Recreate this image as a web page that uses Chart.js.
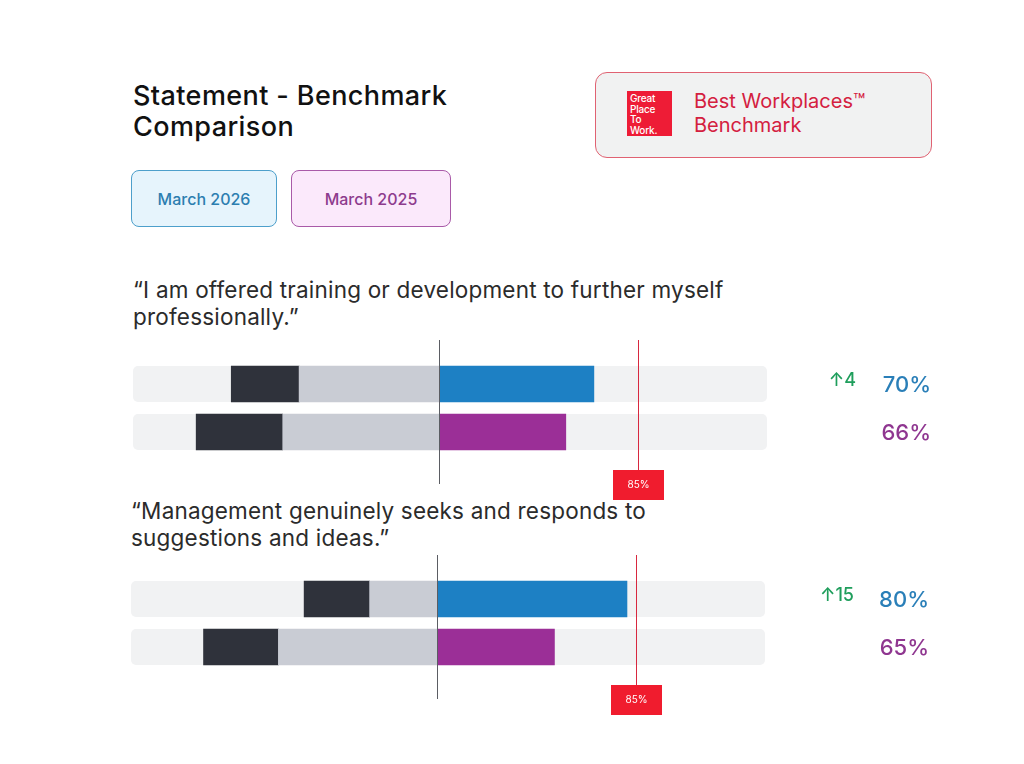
<!DOCTYPE html>
<html>
<head>
<meta charset="utf-8">
<script src="https://cdn.jsdelivr.net/npm/chart.js@4/dist/chart.umd.min.js"></script>
<style>
  html, body { margin: 0; padding: 0; background: #fff; }
  body { width: 1024px; height: 764px; position: relative; overflow: hidden; font-family: Inter, "Noto Sans", sans-serif; }
  .abs { position: absolute; }
  #title { left: 133px; top: 80px; font-size: 27px; line-height: 31px; font-weight: 500; color: #111; letter-spacing: 0.4px; white-space: nowrap; }
  .pill { top: 170px; height: 57px; border-radius: 8px; box-sizing: border-box; display: flex; align-items: center; justify-content: center; font-size: 16px; font-weight: 500; }
  #pill26 { left: 131px; width: 146px; background: #e6f4fc; border: 1px solid #4d9fcb; color: #2c7eb0; }
  #pill25 { left: 291px; width: 160px; background: #fbe9fb; border: 1px solid #a95aa8; color: #8d3b8d; }
  #badge { left: 595px; top: 72px; width: 337px; height: 86px; box-sizing: border-box; border: 1.5px solid #e06272; border-radius: 12px; background: #f1f2f2; }
  #logo { left: 627px; top: 91px; width: 45px; height: 45px; background: #ee1c36; color: #fff; font-size: 10px; line-height: 10.5px; box-sizing: border-box; padding: 2px 0 0 3px; font-weight: 500; letter-spacing: -0.2px; }
  #badgeText { left: 694px; top: 89px; font-size: 20px; line-height: 24px; color: #d4203f; white-space: nowrap; }
  .stmt { font-size: 22.5px; line-height: 27px; color: #2b2b2b; letter-spacing: 0.2px; white-space: nowrap; }
  #stmt1 { left: 133px; top: 276px; }
  #stmt2 { left: 131px; top: 497px; }
  canvas { display: block; }
  .chartBox { position: absolute; width: 830px; height: 170px; }
  #box1 { left: 120px; top: 335px; }
  #box2 { left: 118px; top: 550px; }
</style>
</head>
<body>
<div id="title" class="abs">Statement - Benchmark<br>Comparison</div>
<div id="pill26" class="abs pill">March 2026</div>
<div id="pill25" class="abs pill">March 2025</div>
<div id="badge" class="abs"></div>
<div id="logo" class="abs">Great<br>Place<br>To<br>Work.</div>
<div id="badgeText" class="abs">Best Workplaces™<br>Benchmark</div>
<div id="stmt1" class="abs stmt"></div>
<div id="stmt2" class="abs stmt"></div>
<div id="box1" class="chartBox"><canvas id="chart1"></canvas></div>
<div id="box2" class="chartBox"><canvas id="chart2"></canvas></div>
<script>
const periods = ['March 2026', 'March 2025'];
const statementLines = [
  ['“I am offered training or development to further myself', 'professionally.”'],
  ['“Management genuinely seeks and responds to', 'suggestions and ideas.”']
];

// bar lengths, in scale units (benchmark line sits at 85)
const positive1 = [66, 54];
const neutral1 = [60, 67];
const negative1 = [29, 37];
const positive2 = [81, 50];
const neutral2 = [29, 68];
const negative2 = [28, 32];

const scoreLabels1 = ['70%', '66%'];
const scoreLabels2 = ['80%', '65%'];
const changeLabels = ['↑4', '↑15'];
const benchmark = 85;
const benchmarkLabel = '85%';
const trackMin = -131;
const trackMax = 140;

const periodColors = ['#1d80c4', '#9b2f97'];
const scoreColors = ['#2a7fb8', '#8f3690'];

document.getElementById('stmt1').innerHTML = statementLines[0].join('<br>');
document.getElementById('stmt2').innerHTML = statementLines[1].join('<br>');

const overlay = {
  id: 'overlay',
  beforeDatasetsDraw(chart) {
    const ctx = chart.ctx;
    const x = chart.scales.x;
    const meta = chart.getDatasetMeta(0);
    ctx.save();
    ctx.fillStyle = '#f1f2f3';
    meta.data.forEach(bar => {
      const { y, height } = bar.getProps(['y', 'height'], true);
      const left = x.getPixelForValue(trackMin);
      const right = x.getPixelForValue(trackMax);
      ctx.beginPath();
      ctx.roundRect(left, y - height / 2, right - left, height, 5);
      ctx.fill();
    });
    ctx.restore();
  },
  afterDatasetsDraw(chart, args, opts) {
    const ctx = chart.ctx;
    const x = chart.scales.x;
    const area = chart.chartArea;
    const zero = Math.round(x.getPixelForValue(0)) + 0.5;
    const bench = Math.round(x.getPixelForValue(benchmark)) + 0.5;
    ctx.save();
    // centre line
    ctx.strokeStyle = '#5b5d63';
    ctx.lineWidth = 1;
    ctx.beginPath();
    ctx.moveTo(zero, area.top - 20);
    ctx.lineTo(zero, area.bottom + 28);
    ctx.stroke();
    // benchmark line and tag
    ctx.strokeStyle = '#d8283f';
    ctx.beginPath();
    ctx.moveTo(bench, area.top - 20);
    ctx.lineTo(bench, area.bottom + 14);
    ctx.stroke();
    ctx.fillStyle = '#f01c2e';
    ctx.fillRect(bench - 25.5, area.bottom + 14, 51, 30);
    ctx.fillStyle = '#ffffff';
    ctx.font = '10px Inter, "Noto Sans", sans-serif';
    ctx.textAlign = 'center';
    ctx.textBaseline = 'middle';
    ctx.fillText(benchmarkLabel, bench, area.bottom + 29);
    // scores on the right
    const meta = chart.getDatasetMeta(0);
    meta.data.forEach((bar, i) => {
      const y = bar.getProps(['y'], true).y;
      ctx.textAlign = 'right';
      ctx.font = '500 22px Inter, "Noto Sans", sans-serif';
      ctx.fillStyle = scoreColors[i];
      ctx.fillText(opts.scores[i], area.right + 164, y + 1);
      if (i === 0) {
        ctx.font = '500 18px Inter, "Noto Sans", sans-serif';
        ctx.fillStyle = '#1f9e5c';
        ctx.fillText(opts.change, area.right + 89, y - 3);
      }
    });
    ctx.restore();
  }
};

function makeChart(id, positive, neutral, negative, scores, change) {
  return new Chart(document.getElementById(id), {
    type: 'bar',
    data: {
      labels: periods,
      datasets: [
        { label: 'Neutral', data: neutral.map(v => -v), backgroundColor: '#c9ccd4' },
        { label: 'Unfavourable', data: negative.map(v => -v), backgroundColor: '#2f323b' },
        { label: 'Favourable', data: positive, backgroundColor: periodColors }
      ]
    },
    options: {
      indexAxis: 'y',
      responsive: true,
      maintainAspectRatio: false,
      animation: false,
      barThickness: 36,
      layout: { padding: { left: 13, right: 183, top: 25, bottom: 49 } },
      scales: {
        x: { stacked: true, min: trackMin, max: trackMax, display: false },
        y: { stacked: true, display: false }
      },
      plugins: {
        legend: { display: false },
        tooltip: { enabled: false },
        overlay: { scores: scores, change: change }
      }
    },
    plugins: [overlay]
  });
}

makeChart('chart1', positive1, neutral1, negative1, scoreLabels1, changeLabels[0]);
makeChart('chart2', positive2, neutral2, negative2, scoreLabels2, changeLabels[1]);
</script>
</body>
</html>
